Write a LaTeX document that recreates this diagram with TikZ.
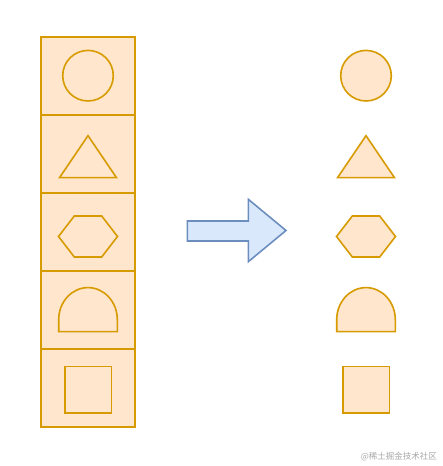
\documentclass[tikz,border=0pt]{standalone}
\usepackage{fontspec}
\usepackage{tikz}
\newfontfamily\cjk{Noto Sans CJK SC}
\definecolor{shapefill}{HTML}{FFE6CC}
\definecolor{shapeline}{HTML}{D79B00}
\definecolor{arrowfill}{HTML}{DAE8FC}
\definecolor{arrowline}{HTML}{6C8EBF}
\definecolor{markgray}{HTML}{A8A8A8}

\begin{document}
\begin{tikzpicture}[x=1pt,y=1pt,line join=miter,
  cellbox/.style={rectangle, draw=shapeline, fill=shapefill, line width=1.6pt, minimum width=94pt, minimum height=78pt, inner sep=0pt},
  shapeitem/.style={draw=shapeline, fill=shapefill, line width=1.6pt},
  bigarrow/.style={draw=arrowline, fill=arrowfill, line width=1.6pt}]
  \useasboundingbox (0,0) rectangle (442,466);

  % Define nodes
  \node[cellbox] (cellA) at (88,390) {};
  \node[cellbox] (cellB) at (88,312) {};
  \node[cellbox] (cellC) at (88,234) {};
  \node[cellbox] (cellD) at (88,156) {};
  \node[cellbox] (cellE) at (88,78) {};

  % Shapes in the column
  \draw[shapeitem] (88,390.3) circle (25.3);
  \draw[shapeitem] (88,330.3) -- (116.5,288.3) -- (59.5,288.3) -- cycle;
  \draw[shapeitem] (58.5,229.5) -- (74.3,250) -- (101.7,250) -- (117.5,229.5) -- (101.7,209) -- (74.3,209) -- cycle;
  \draw[shapeitem] (58.7,134.3) -- (58.7,146.3) arc[start angle=180, end angle=0, x radius=29.3, y radius=32.1] -- (117.3,134.3) -- cycle;
  \draw[shapeitem] (64.7,53) rectangle (111.3,99.3);

  % Arrow
  \draw[bigarrow] (187.3,245) -- (248.3,245) -- (248.3,266.7) -- (286,235.5) -- (248.3,204.3) -- (248.3,225) -- (187.3,225) -- cycle;

  % Shapes on their own
  \draw[shapeitem] (366,390.3) circle (25.3);
  \draw[shapeitem] (366,330.3) -- (394.5,288.3) -- (337.5,288.3) -- cycle;
  \draw[shapeitem] (336.5,229.5) -- (352.3,250) -- (379.7,250) -- (395.5,229.5) -- (379.7,209) -- (352.3,209) -- cycle;
  \draw[shapeitem] (336.7,134.3) -- (336.7,146.3) arc[start angle=180, end angle=0, x radius=29.3, y radius=32.1] -- (395.3,134.3) -- cycle;
  \draw[shapeitem] (342.7,53) rectangle (389.3,99.3);

  % Watermark
  \node[anchor=east, inner sep=0pt, text=markgray, font=\cjk\fontsize{8.5}{10}\selectfont] (mark) at (437,9.5) {@稀土掘金技术社区};
\end{tikzpicture}
\end{document}
